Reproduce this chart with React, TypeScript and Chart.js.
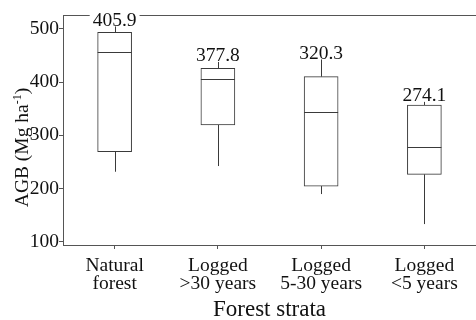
import React, { useEffect, useRef } from "react";
import { Chart, registerables } from "chart.js";

Chart.register(...registerables);

// ---- data ----
const categories: string[][] = [
  ["Natural", "forest"],
  ["Logged", ">30 years"],
  ["Logged", "5-30 years"],
  ["Logged", "<5 years"],
];
const whiskerLow = [231.6, 242.3, 189.7, 133.3];
const quartile1 = [269.2, 319.4, 204.7, 226.7];
const medians = [456.0, 405.8, 344.4, 277.4];
const quartile3 = [493.6, 425.9, 410.2, 357.0];
const whiskerHigh = [504.5, 437.8, 442.5, 362.8];
const means = [405.9, 377.8, 320.3, 274.1];
const yTicks = [100, 200, 300, 400, 500];
const yMin = 94;
const yMax = 526;
const xTitle = "Forest strata";
const yTitleMain = "AGB (Mg ha";
const yTitleSup = "-1";
const yTitleEnd = ")";

const FONT = "'Liberation Serif', 'Times New Roman', serif";
const TEXT = "#111111";
const LINE = "#3a3a3a";
const AXIS = "#555555";

const boxPlugin = {
  id: "boxExtras",
  afterDatasetsDraw(chart: any) {
    const ctx: CanvasRenderingContext2D = chart.ctx;
    const y = chart.scales.y;
    const area = chart.chartArea;
    const meta = chart.getDatasetMeta(0);
    ctx.save();
    ctx.strokeStyle = AXIS;
    ctx.lineWidth = 1;
    // top frame line
    const ty = Math.round(area.top) + 0.5;
    ctx.beginPath();
    ctx.moveTo(area.left, ty);
    ctx.lineTo(area.right, ty);
    ctx.stroke();

    ctx.strokeStyle = LINE;
    meta.data.forEach((bar: any, i: number) => {
      const props = bar.getProps(["x", "width"], true);
      const cx = props.x;
      const half = props.width / 2;
      const px = Math.round(cx) + 0.5;
      // median
      const ym = Math.round(y.getPixelForValue(medians[i])) + 0.5;
      ctx.beginPath();
      ctx.moveTo(cx - half, ym);
      ctx.lineTo(cx + half, ym);
      ctx.stroke();
      // whiskers
      const yq1 = y.getPixelForValue(quartile1[i]);
      const yq3 = y.getPixelForValue(quartile3[i]);
      const ylo = y.getPixelForValue(whiskerLow[i]);
      const yhi = y.getPixelForValue(whiskerHigh[i]);
      ctx.beginPath();
      ctx.moveTo(px, yq1);
      ctx.lineTo(px, ylo);
      ctx.moveTo(px, yq3);
      ctx.lineTo(px, yhi);
      ctx.stroke();
      // mean label
      ctx.font = `19.5px ${FONT}`;
      ctx.textAlign = "center";
      ctx.textBaseline = "alphabetic";
      const text = means[i].toFixed(1);
      const w = ctx.measureText(text).width;
      ctx.fillStyle = "#ffffff";
      ctx.fillRect(cx - w / 2 - 3, yhi - 15, w + 6, 14);
      ctx.fillStyle = TEXT;
      ctx.fillText(text, cx, yhi - 0.5);
    });

    // y axis title with superscript
    ctx.translate(27.5, 147.5);
    ctx.rotate(-Math.PI / 2);
    ctx.fillStyle = TEXT;
    ctx.textAlign = "left";
    ctx.textBaseline = "alphabetic";
    const mainFont = `19.5px ${FONT}`;
    const supFont = `12px ${FONT}`;
    ctx.font = mainFont;
    const w1 = ctx.measureText(yTitleMain).width;
    const w3 = ctx.measureText(yTitleEnd).width;
    ctx.font = supFont;
    const w2 = ctx.measureText(yTitleSup).width;
    let sx = -(w1 + w2 + w3) / 2;
    ctx.font = mainFont;
    ctx.fillText(yTitleMain, sx, 0);
    sx += w1;
    ctx.font = supFont;
    ctx.fillText(yTitleSup, sx, -7);
    sx += w2;
    ctx.font = mainFont;
    ctx.fillText(yTitleEnd, sx, 0);
    ctx.restore();
  },
};

export default function App() {
  const ref = useRef<HTMLCanvasElement | null>(null);
  useEffect(() => {
    if (!ref.current) return;
    const chart = new Chart(ref.current, {
      type: "bar",
      data: {
        labels: categories as any,
        datasets: [
          {
            data: quartile1.map((v, i) => [v, quartile3[i]]) as any,
            backgroundColor: "#ffffff",
            borderColor: LINE,
            borderWidth: 1,
            borderSkipped: false,
            barThickness: 34,
          },
        ],
      },
      options: {
        animation: false,
        responsive: false,
        maintainAspectRatio: false,
        layout: { padding: { top: 15, right: 0, left: 0, bottom: 0 } },
        plugins: {
          legend: { display: false },
          tooltip: { enabled: false },
        },
        scales: {
          x: {
            type: "category",
            offset: true,
            grid: {
              display: true,
              drawOnChartArea: false,
              drawTicks: true,
              tickLength: 4,
              color: AXIS,
              offset: false,
            },
            border: { display: true, color: AXIS, width: 1 },
            ticks: {
              color: TEXT,
              font: { family: FONT, size: 19.5, lineHeight: 0.93 },
              padding: 8,
              maxRotation: 0,
              autoSkip: false,
            },
            title: {
              display: true,
              text: xTitle,
              color: TEXT,
              font: { family: FONT, size: 23, lineHeight: 0.85 },
              padding: 0,
            },
            afterFit(s: any) {
              s.height = 75;
            },
          },
          y: {
            type: "linear",
            min: yMin,
            max: yMax,
            afterBuildTicks(s: any) {
              s.ticks = yTicks.map((v) => ({ value: v }));
            },
            grid: {
              display: true,
              drawOnChartArea: false,
              drawTicks: true,
              tickLength: 4,
              color: AXIS,
            },
            border: { display: true, color: AXIS, width: 1 },
            ticks: {
              color: TEXT,
              font: { family: FONT, size: 19.5 },
              padding: 0,
            },
            afterFit(s: any) {
              s.width = 63;
            },
          },
        },
      } as any,
      plugins: [boxPlugin],
    });
    return () => chart.destroy();
  }, []);
  return (
    <div style={{ position: "fixed", left: 0, top: 0, width: 476, height: 320, background: "#fff" }}>
      <canvas ref={ref} width={476} height={320} style={{ display: "block" }} />
    </div>
  );
}
